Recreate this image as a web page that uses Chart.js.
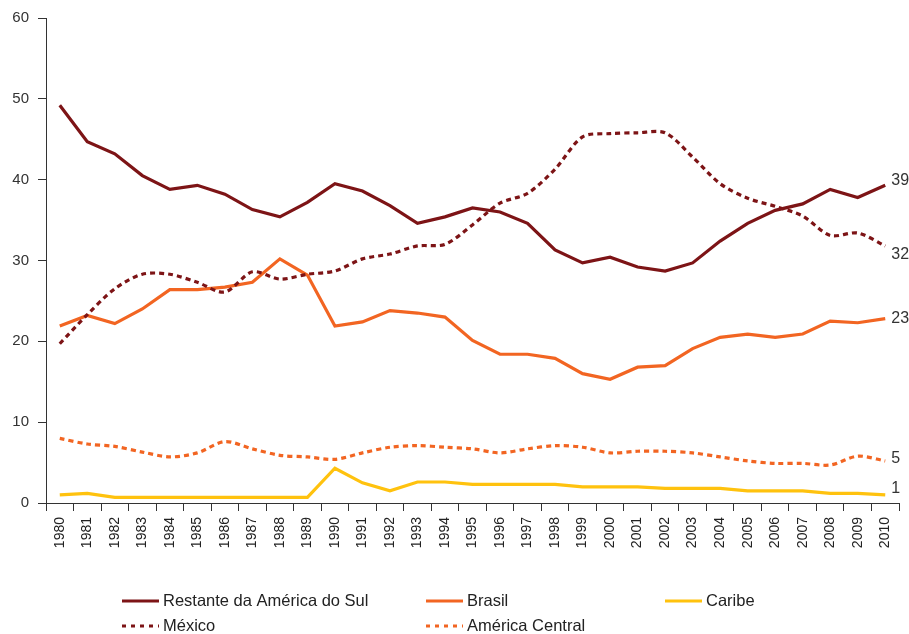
<!DOCTYPE html>
<html>
<head>
<meta charset="utf-8">
<script src="https://cdn.jsdelivr.net/npm/chart.js@4"></script>
<style>
  html, body { margin: 0; padding: 0; background: #fff; }
  #wrap { position: relative; width: 909px; height: 634px; }
</style>
</head>
<body>
<div id="wrap"><canvas id="LineChart" width="909" height="634"></canvas></div>
<script>
const years = [];
for (let y = 1980; y <= 2010; y++) years.push(String(y));

const restanteAmericaSul = [49.2, 44.7, 43.2, 40.5, 38.8, 39.3, 38.2, 36.3, 35.4, 37.2,
  39.5, 38.6, 36.8, 34.6, 35.4, 36.5, 36.0, 34.6, 31.3, 29.7,
  30.4, 29.2, 28.7, 29.7, 32.4, 34.6, 36.2, 37.0, 38.8, 37.8, 39.3];
const mexico = [19.7, 23.3, 26.5, 28.3, 28.3, 27.3, 26.1, 28.6, 27.7, 28.3,
  28.7, 30.2, 30.8, 31.8, 32.0, 34.4, 37.1, 38.3, 41.3, 45.3,
  45.7, 45.8, 45.8, 42.8, 39.5, 37.7, 36.7, 35.5, 33.1, 33.4, 31.8];
const brasil = [21.9, 23.2, 22.2, 24.0, 26.4, 26.4, 26.7, 27.3, 30.2, 28.2,
  21.9, 22.4, 23.8, 23.5, 23.0, 20.1, 18.4, 18.4, 17.9, 16.0,
  15.3, 16.8, 17.0, 19.1, 20.5, 20.9, 20.5, 20.9, 22.5, 22.3, 22.8];
const americaCentral = [8.0, 7.3, 7.0, 6.3, 5.7, 6.2, 7.6, 6.7, 5.9, 5.7,
  5.4, 6.2, 6.9, 7.1, 6.9, 6.7, 6.2, 6.7, 7.1, 6.9,
  6.2, 6.4, 6.4, 6.2, 5.7, 5.2, 4.9, 4.9, 4.7, 5.8, 5.2];
const caribe = [1.0, 1.2, 0.7, 0.7, 0.7, 0.7, 0.7, 0.7, 0.7, 0.7,
  4.3, 2.5, 1.5, 2.6, 2.6, 2.3, 2.3, 2.3, 2.3, 2.0,
  2.0, 2.0, 1.8, 1.8, 1.8, 1.5, 1.5, 1.5, 1.2, 1.2, 1.0];

const yTicks = [0, 10, 20, 30, 40, 50, 60];

const DARK_RED = "#7d1416";
const ORANGE = "#f26522";
const YELLOW = "#ffc20e";
const FONT = "'Liberation Sans', Arial, sans-serif";

function seriesItem(label, data, color, dotted) {
  return {
    label: label,
    data: data,
    borderColor: color,
    backgroundColor: color,
    borderWidth: 3.2,
    borderDash: dotted ? [5, 4] : [],
    tension: dotted ? 0.3 : 0,
    pointRadius: 0,
    fill: false,
  };
}

// value labels at the right end of each line
const endLabelOffsets = [-5, 9, 0, -2, -6];
const endLabels = {
  id: "endLabels",
  afterDatasetsDraw(chart) {
    const ctx = chart.ctx;
    ctx.save();
    ctx.font = "16px " + FONT;
    ctx.fillStyle = "#333";
    ctx.textBaseline = "middle";
    ctx.textAlign = "left";
    chart.data.datasets.forEach((ds, i) => {
      const meta = chart.getDatasetMeta(i);
      const pt = meta.data[meta.data.length - 1];
      const val = ds.data[ds.data.length - 1];
      ctx.fillText(String(Math.round(val)), pt.x + 6, pt.y + endLabelOffsets[i]);
    });
    ctx.restore();
  },
};

// legend laid out in 3 columns, 2 rows, under the axis
const legendSlots = [
  { col: 0, row: 0 }, { col: 0, row: 1 }, { col: 1, row: 0 }, { col: 1, row: 1 }, { col: 2, row: 0 },
];
const legendCols = [122, 426, 665];
const legendRows = [601, 626];
const gridLegend = {
  id: "gridLegend",
  afterDraw(chart) {
    const ctx = chart.ctx;
    ctx.save();
    ctx.font = "16.5px " + FONT;
    ctx.textBaseline = "middle";
    chart.data.datasets.forEach((ds, i) => {
      const slot = legendSlots[i];
      const x = legendCols[slot.col];
      const y = legendRows[slot.row];
      ctx.strokeStyle = ds.borderColor;
      ctx.lineWidth = 3;
      ctx.setLineDash(ds.borderDash.length ? [4, 5] : []);
      ctx.beginPath();
      ctx.moveTo(x, y);
      ctx.lineTo(x + 37, y);
      ctx.stroke();
      ctx.setLineDash([]);
      ctx.fillStyle = "#222";
      ctx.fillText(ds.label, x + 41, y);
    });
    ctx.restore();
  },
};

const chartConfig = {
  type: "line",
  data: {
    labels: years,
    datasets: [
      seriesItem("Restante da América do Sul", restanteAmericaSul, DARK_RED, false),
      seriesItem("México", mexico, DARK_RED, true),
      seriesItem("Brasil", brasil, ORANGE, false),
      seriesItem("América Central", americaCentral, ORANGE, true),
      seriesItem("Caribe", caribe, YELLOW, false),
    ],
  },
  options: {
    responsive: false,
    animation: false,
    layout: {
      padding: { top: 16, right: 10, bottom: 0, left: 0 },
    },
    scales: {
      x: {
        offset: true,
        afterFit(scale) { scale.height = 131; },
        grid: {
          offset: true,
          drawOnChartArea: false,
          tickLength: 8,
          color: "#333",
        },
        border: { color: "#333", width: 1 },
        ticks: {
          autoSkip: false,
          minRotation: 90,
          maxRotation: 90,
          padding: 6,
          color: "#222",
          font: { family: FONT, size: 14 },
        },
      },
      y: {
        min: 0,
        max: 60,
        afterFit(scale) { scale.width = 46; },
        afterBuildTicks(scale) { scale.ticks = yTicks.map(v => ({ value: v })); },
        grid: {
          drawOnChartArea: false,
          tickLength: 8,
          color: "#333",
        },
        border: { color: "#333", width: 1 },
        ticks: {
          padding: 9,
          color: "#333",
          font: { family: FONT, size: 15 },
        },
      },
    },
    plugins: {
      legend: { display: false },
      tooltip: { enabled: false },
    },
  },
  plugins: [endLabels, gridLegend],
};

new Chart(document.getElementById("LineChart"), chartConfig);
</script>
</body>
</html>
